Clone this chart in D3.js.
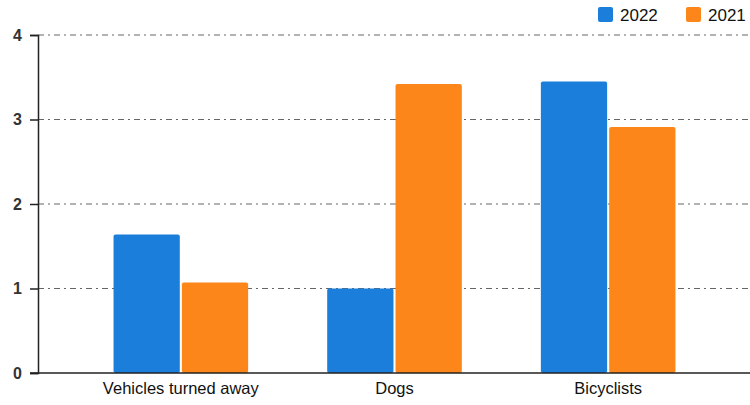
<!DOCTYPE html>
<html>
<head>
<meta charset="utf-8">
<script src="https://cdn.jsdelivr.net/npm/d3@7"></script>
<style>
  body { margin: 0; background: #fff; }
  text { font-family: "Liberation Sans", Arial, sans-serif; }
</style>
</head>
<body>
<svg id="chart" width="750" height="405"></svg>
<script>
var categories = ["Vehicles turned away", "Dogs", "Bicyclists"];
var seriesNames = ["2022", "2021"];
var values2022 = [1.64, 1.0, 3.45];
var values2021 = [1.07, 3.42, 2.91];
var yTicks = [0, 1, 2, 3, 4];
var colors = ["#1b7edb", "#fc8619"];

var width = 750, height = 405;
var margin = {top: 35, right: 0, bottom: 32, left: 38};

var svg = d3.select("#chart");

var y = d3.scaleLinear()
  .domain([0, 4])
  .range([height - margin.bottom, margin.top]);

// outer band scale, groups sit a bit off-centre like the original
var x0 = d3.scaleBand()
  .domain(categories)
  .range([74, 715])
  .paddingInner(0.37)
  .paddingOuter(0.185);

var x1 = d3.scaleBand()
  .domain(seriesNames)
  .range([0, x0.bandwidth()])
  .paddingInner(0.03);

var rows = categories.map(function(c, i) {
  return {cat: c, vals: [
    {key: "2022", v: values2022[i]},
    {key: "2021", v: values2021[i]}
  ]};
});

var color = d3.scaleOrdinal().domain(seriesNames).range(colors);

// gridlines
svg.append("g")
  .selectAll("line")
  .data(yTicks.filter(function(d) { return d > 0; }))
  .enter().append("line")
  .attr("x1", margin.left)
  .attr("x2", width)
  .attr("y1", function(d) { return y(d); })
  .attr("y2", function(d) { return y(d); })
  .attr("stroke", "#666")
  .attr("stroke-width", 1)
  .attr("stroke-dasharray", "6,4,2,4");

// bars
var g = svg.append("g")
  .selectAll("g")
  .data(rows)
  .enter().append("g")
  .attr("transform", function(d) { return "translate(" + x0(d.cat) + ",0)"; });

g.selectAll("rect")
  .data(function(d) { return d.vals; })
  .enter().append("rect")
  .attr("x", function(d) { return x1(d.key); })
  .attr("y", function(d) { return y(d.v); })
  .attr("width", x1.bandwidth())
  .attr("height", function(d) { return y(0) - y(d.v); })
  .attr("rx", 2)
  .attr("fill", function(d) { return color(d.key); });

// y axis
var yAxis = svg.append("g")
  .attr("transform", "translate(" + margin.left + ",0)")
  .call(d3.axisLeft(y).tickValues(yTicks).tickSize(8).tickPadding(8).tickFormat(d3.format("d")));
yAxis.select(".domain").attr("stroke", "#222").attr("stroke-width", 1.5);
yAxis.selectAll(".tick line").attr("stroke", "#222").attr("stroke-width", 1.5);
yAxis.selectAll("text")
  .attr("font-size", 16)
  .attr("font-weight", "bold")
  .attr("fill", "#333")
  .attr("font-family", "'Liberation Sans', Arial, sans-serif");

// x axis
var xAxis = svg.append("g")
  .attr("transform", "translate(0," + y(0) + ")")
  .call(d3.axisBottom(x0).tickSize(0).tickPadding(9));
xAxis.select(".domain").remove();
xAxis.append("line")
  .attr("x1", margin.left - 8)
  .attr("x2", width)
  .attr("stroke", "#222")
  .attr("stroke-width", 1.5);
xAxis.selectAll("text")
  .attr("font-size", 16.5)
  .attr("fill", "#111")
  .attr("font-family", "'Liberation Sans', Arial, sans-serif");

// legend
var legend = svg.append("g")
  .selectAll("g")
  .data(seriesNames)
  .enter().append("g")
  .attr("transform", function(d, i) { return "translate(" + (598 + i * 88) + ",7)"; });

legend.append("rect")
  .attr("width", 15)
  .attr("height", 15)
  .attr("rx", 2)
  .attr("fill", function(d) { return color(d); });

legend.append("text")
  .attr("x", 22)
  .attr("y", 13.5)
  .attr("font-size", 17)
  .attr("fill", "#111")
  .text(function(d) { return d; });
</script>
</body>
</html>
